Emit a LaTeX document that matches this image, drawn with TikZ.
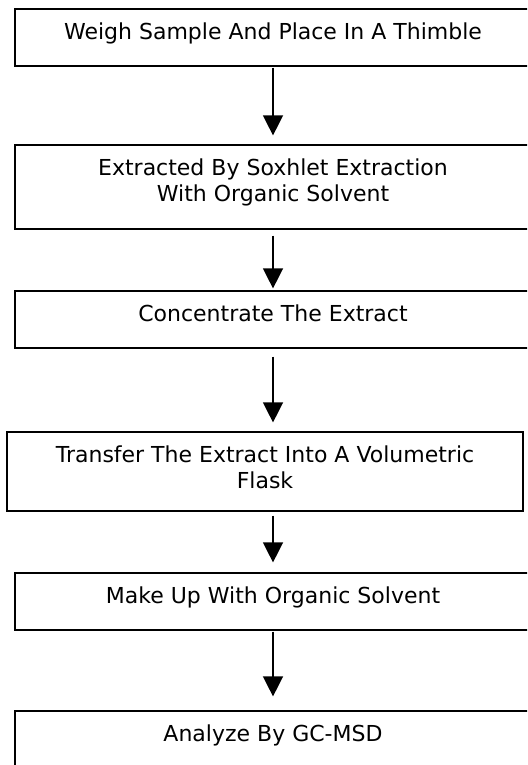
\documentclass[tikz,border=0pt]{standalone}
\usepackage{fontspec}
\setmainfont{DejaVu Sans}
\usepackage{tikz}
\usetikzlibrary{positioning, arrows.meta}

\tikzset{
  stepbox/.style={draw=black, line width=1.2pt, minimum width=516pt, inner sep=0pt},
  steptext/.style={anchor=north, align=center, inner sep=0pt,
    font=\fontsize{22}{26}\selectfont},
  flow/.style={line width=1.4pt, -{Triangle[width=20pt,length=20pt]}}
}

\begin{document}
\begin{tikzpicture}[x=1pt, y=-1pt]
  \clip (0,0) rectangle (527,765);
  \fill[white] (0,0) rectangle (527,765);

  % boxes
  \node[stepbox, minimum height=57pt] (b1) at (273,37.5) {};
  \node[stepbox, minimum height=84pt] (b2) at (273,187) {};
  \node[stepbox, minimum height=57pt] (b3) at (273,319.5) {};
  \node[stepbox, minimum height=79pt] (b4) at (265,471.5) {};
  \node[stepbox, minimum height=57pt] (b5) at (273,601.5) {};
  \node[stepbox, minimum height=57pt] (b6) at (273,739.5) {};

  % texts
  \node[steptext] (t1) at ([yshift=-14pt]b1.north) {Weigh Sample And Place In A Thimble};
  \node[steptext] (t2) at ([yshift=-14pt]b2.north) {Extracted By Soxhlet Extraction\\With Organic Solvent};
  \node[steptext] (t3) at ([yshift=-14pt]b3.north) {Concentrate The Extract};
  \node[steptext] (t4) at ([yshift=-14pt]b4.north) {Transfer The Extract Into A Volumetric\\Flask};
  \node[steptext] (t5) at ([yshift=-14pt]b5.north) {Make Up With Organic Solvent};
  \node[steptext] (t6) at ([yshift=-14pt]b6.north) {Analyze By GC-MSD};

  % arrows
  \draw[flow, shorten <=1pt, shorten >=9pt] (b1.south) -- (b2.north);
  \draw[flow, shorten <=6pt, shorten >=2pt] (b2.south) -- (b3.north);
  \draw[flow, shorten <=8pt, shorten >=9pt] (b3.south) -- (b3.south |- b4.north);
  \draw[flow, shorten <=4pt, shorten >=10pt] (b5.north |- b4.south) -- (b5.north);
  \draw[flow, shorten <=1pt, shorten >=14pt] (b5.south) -- (b6.north);
\end{tikzpicture}
\end{document}
